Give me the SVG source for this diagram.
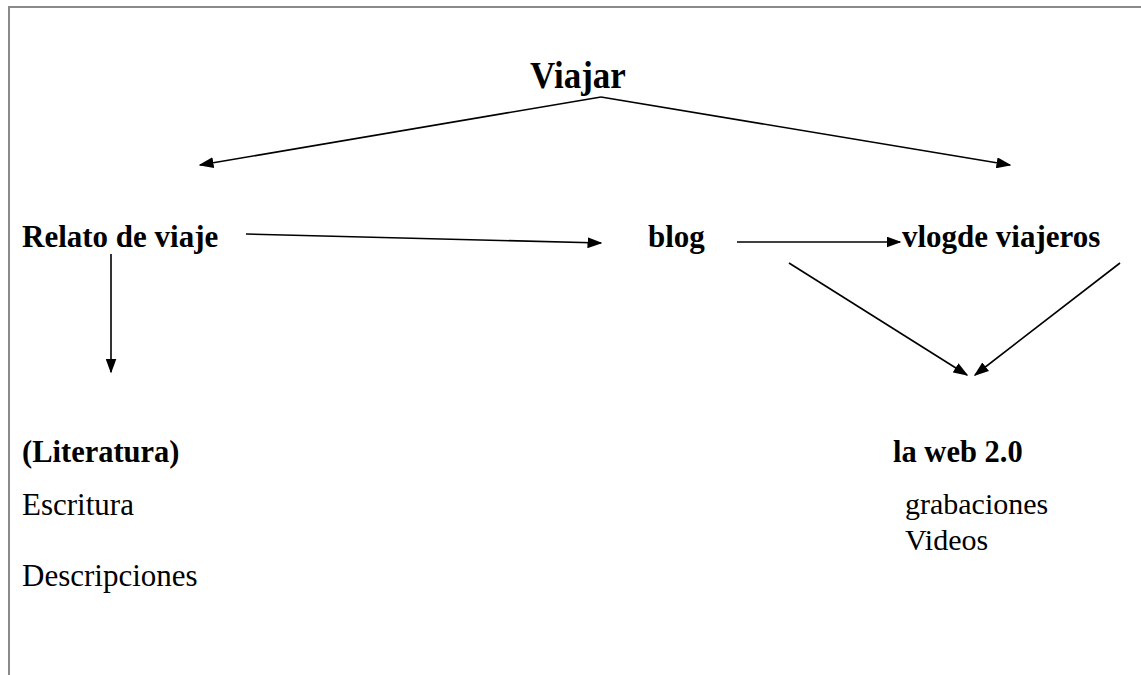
<svg xmlns="http://www.w3.org/2000/svg" width="1141" height="675" viewBox="0 0 1141 675">
  <style>
    .t { font-family: "Liberation Serif", "Times New Roman", serif; fill: #000; }
    .b { font-weight: bold; }
    .conn { stroke: #000; stroke-width: 1.6; fill: none; marker-end: url(#arrow); }
  </style>
  <defs>
    <marker id="arrow" viewBox="0 0 10 10" refX="9" refY="5" markerWidth="15" markerHeight="11" markerUnits="userSpaceOnUse" orient="auto" preserveAspectRatio="none">
      <path d="M0,0 L10,5 L0,10 z" fill="#000"/>
    </marker>
  </defs>
  <rect width="1141" height="675" fill="#fff"/>
  <!-- page frame -->
  <path d="M9,675 V7 H1141" fill="none" stroke="#8a8a8a" stroke-width="2"/>

  <g id="connectors">
    <path d="M601,97 L200,165" class="conn"/>
    <path d="M601,97 L1010,165" class="conn"/>
    <path d="M246,234 L601,243" class="conn"/>
    <path d="M737,242 L900,242" class="conn"/>
    <path d="M111,254 L111,372" class="conn"/>
    <path d="M789,263 L967,375" class="conn"/>
    <path d="M1120,263 L975,375" class="conn"/>
  </g>

  <g id="viajar"><text class="t b" x="530" y="88" font-size="35" transform="translate(0,-8.8) scale(1,1.1)">Viajar</text></g>
  <g id="relato"><text class="t b" x="22" y="247" font-size="31">Relato de viaje</text></g>
  <g id="blog"><text class="t b" x="648" y="247" font-size="31">blog</text></g>
  <g id="vlog"><text class="t b" x="902" y="247" font-size="31">vlogde viajeros</text></g>
  <g id="literatura">
    <text class="t b" x="22" y="462" font-size="30.5">(Literatura)</text>
    <text class="t" x="22" y="515" font-size="31">Escritura</text>
    <text class="t" x="22" y="586" font-size="31">Descripciones</text>
  </g>
  <g id="web">
    <text class="t b" x="893" y="462" font-size="30.5">la web 2.0</text>
    <text class="t" x="905" y="514" font-size="30">grabaciones</text>
    <text class="t" x="905" y="550" font-size="30">Videos</text>
  </g>
</svg>
